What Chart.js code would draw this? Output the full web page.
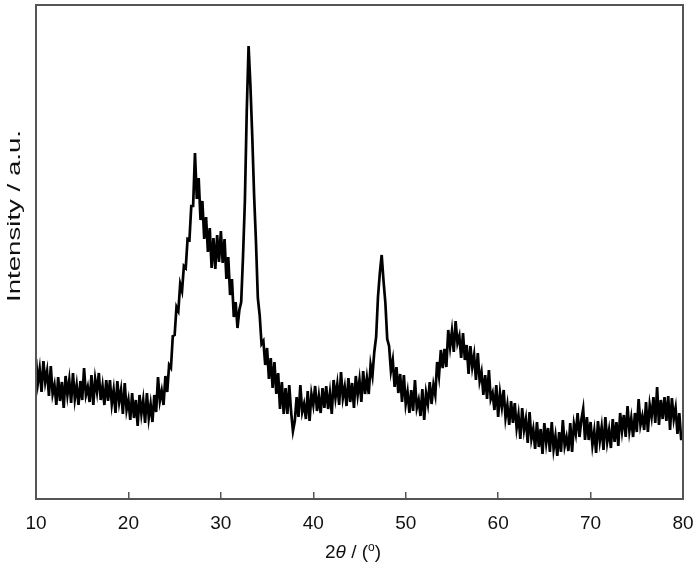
<!DOCTYPE html>
<html>
<head>
<meta charset="utf-8">
<script src="https://cdn.jsdelivr.net/npm/chart.js@4/dist/chart.umd.min.js"></script>
<style>
  html, body { margin: 0; padding: 0; background: #fff; }
  canvas { display: block; }
</style>
</head>
<body>
<canvas id="c" width="700" height="569"></canvas>
<script>
// 2-theta grid: first angle and step (degrees)
const thetaStart = 10;
const thetaStep = 0.2;
// x-axis tick labels
const xTicks = [10, 20, 30, 40, 50, 60, 70, 80];
// axis titles
const yTitle = 'Intensity / a.u.';
const xTitleParts = [['2', 'normal'], ['θ', 'italic'], [' / (', 'normal'], ['o', 'sup'], [')', 'normal']];
const intensity = [
140,116,130,107,138,117,128,103,133,105,
114,94,122,98,117,91,123,104,119,96,
126,100,114,94,118,99,131,104,112,97,
124,94,120,107,126,99,113,94,119,98,
119,95,109,86,118,97,109,85,116,89,
99,79,106,81,99,73,104,85,99,76,
106,81,95,77,104,87,122,98,108,94,
123,107,134,131,163,164,192,188,215,208,
233,231,260,259,293,293,346,300,321,279,
298,260,282,247,271,231,261,230,264,237,
268,236,260,220,242,204,220,182,197,171,
189,197,243,298,387,453,413,362,303,257,
201,184,155,158,134,151,120,141,111,137,
105,126,90,117,85,111,85,114,87,68,
78,102,82,114,87,95,80,108,78,105,
94,113,88,103,86,111,91,113,90,106,
85,119,101,115,94,127,101,112,93,121,
97,116,91,123,104,119,97,128,105,121,
105,134,123,147,162,202,226,244,218,196,
160,153,128,139,112,132,106,125,97,124,
95,107,86,109,88,119,91,99,83,110,
79,106,95,117,95,114,104,137,123,149,
131,150,132,169,152,168,147,178,156,163,
141,166,139,154,125,153,132,144,119,146,
118,127,104,124,100,129,100,106,89,114,
82,106,92,109,81,94,74,98,76,96,
71,84,60,91,69,80,56,87,60,70,
50,77,52,70,45,76,56,71,47,77,
50,63,43,67,47,79,53,62,48,76,
47,75,65,86,62,79,90,59,82,59,
77,54,68,46,78,58,72,49,82,57,
69,51,80,57,77,53,86,68,84,62,
93,68,81,62,86,67,100,74,83,69,
97,67,94,82,102,76,112,74,99,80,
102,78,103,69,101,80,91,65,86,60,
60
];
const points = intensity.map((v, i) => ({ x: thetaStart + i * thetaStep, y: v }));

const FAMILY = 'Arial, "Liberation Sans", sans-serif';

const frameAndTitles = {
  id: 'frameAndTitles',
  afterDraw(chart) {
    const a = chart.chartArea, ctx = chart.ctx;
    ctx.save();
    ctx.strokeStyle = '#555';
    ctx.lineWidth = 2;
    ctx.strokeRect(a.left, a.top, a.right - a.left, a.bottom - a.top);

    // y title (stretched along its length like the reference)
    ctx.fillStyle = '#111';
    ctx.font = '19px ' + FAMILY;
    ctx.textAlign = 'center';
    ctx.textBaseline = 'middle';
    const w = ctx.measureText(yTitle).width;
    const target = 172;
    ctx.save();
    ctx.translate(15, 216);
    ctx.rotate(-Math.PI / 2);
    ctx.scale(target / w, 1);
    ctx.fillText(yTitle, 0, 0);
    ctx.restore();

    // x title with italic theta and superscript degree
    const fontFor = (s) => s === 'italic' ? 'italic 19px ' + FAMILY : (s === 'sup' ? '12px ' + FAMILY : '19px ' + FAMILY);
    let total = 0;
    const widths = xTitleParts.map(([t, s]) => { ctx.font = fontFor(s); const ww = ctx.measureText(t).width; total += ww; return ww; });
    let x = 353 - total / 2;
    const yBase = 558;
    ctx.textAlign = 'left';
    ctx.textBaseline = 'alphabetic';
    xTitleParts.forEach(([t, s], k) => {
      ctx.font = fontFor(s);
      ctx.fillText(t, x, s === 'sup' ? yBase - 7 : yBase);
      x += widths[k];
    });
    ctx.restore();
  }
};

const font = { family: FAMILY, size: 19 };

new Chart(document.getElementById('c'), {
  type: 'line',
  data: {
    datasets: [{
      data: points,
      borderColor: '#000',
      borderWidth: 2.7,
      borderJoinStyle: 'miter',
      pointRadius: 0,
      tension: 0
    }]
  },
  options: {
    responsive: false,
    animation: false,
    layout: { padding: { top: 5, right: 17, left: 0, bottom: 0 } },
    plugins: { legend: { display: false }, tooltip: { enabled: false } },
    scales: {
      x: {
        type: 'linear',
        min: 10, max: 80,
        afterBuildTicks: (s) => { s.ticks = xTicks.map(v => ({ value: v })); },
        ticks: { font: font, color: '#111', padding: 20, maxRotation: 0 },
        grid: { drawOnChartArea: false, drawTicks: true, tickLength: -7, color: '#555', lineWidth: 1.5 },
        border: { display: false },
        title: { display: false },
        afterFit: (s) => { s.height = 70; s.paddingLeft = 0; s.paddingRight = 0; }
      },
      y: {
        min: 0, max: 494,
        ticks: { display: false },
        grid: { display: false },
        border: { display: false },
        title: { display: false },
        afterFit: (s) => { s.width = 36; }
      }
    }
  },
  plugins: [frameAndTitles]
});
</script>
</body>
</html>
